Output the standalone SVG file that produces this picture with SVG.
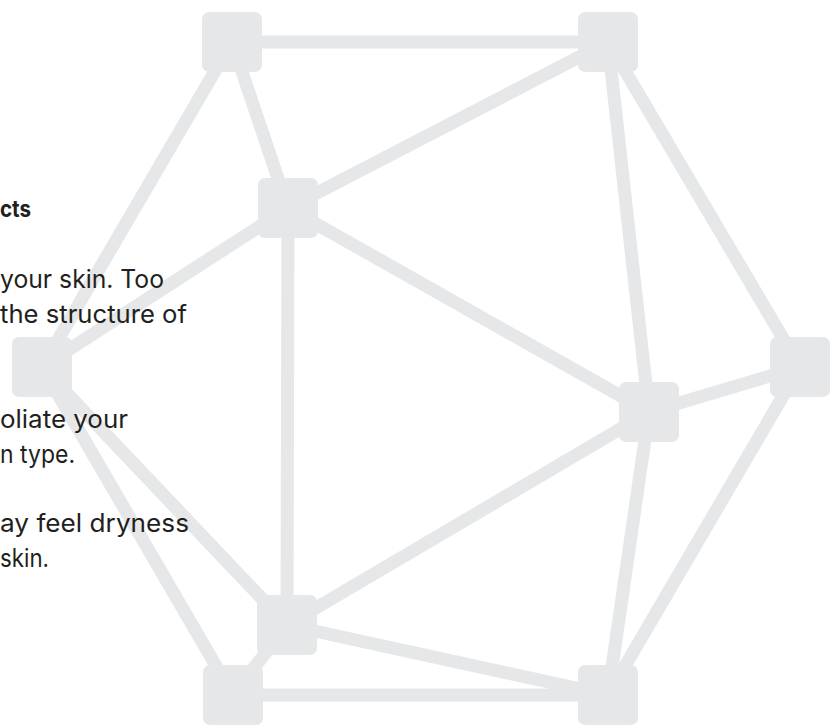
<svg xmlns="http://www.w3.org/2000/svg" width="830" height="726" viewBox="0 0 830 726">
<style>
.e{stroke:#E6E7E8;stroke-width:13;fill:none}
.n{fill:#E6E7E8}
.t{font-family:Inter,"Liberation Sans",sans-serif;font-size:25px;fill:#231F20}
.h{font-weight:700;font-size:23px}
</style>
<rect width="830" height="726" fill="#fff"/>
<g id="connectors">
<line class="e" x1="232" y1="42" x2="608" y2="42"/>
<line class="e" x1="232" y1="42" x2="42" y2="367"/>
<line class="e" x1="232" y1="42" x2="288" y2="208"/>
<line class="e" x1="608" y1="42" x2="288" y2="208"/>
<line class="e" x1="608" y1="42" x2="649" y2="412"/>
<line class="e" x1="608" y1="42" x2="800" y2="367"/>
<line class="e" x1="288" y1="208" x2="42" y2="367"/>
<line class="e" x1="288" y1="208" x2="287" y2="625"/>
<line class="e" x1="288" y1="208" x2="649" y2="412"/>
<line class="e" x1="42" y1="367" x2="287" y2="625"/>
<line class="e" x1="42" y1="367" x2="233" y2="695"/>
<line class="e" x1="800" y1="367" x2="649" y2="412"/>
<line class="e" x1="800" y1="367" x2="608" y2="695"/>
<line class="e" x1="649" y1="412" x2="287" y2="625"/>
<line class="e" x1="649" y1="412" x2="608" y2="695"/>
<line class="e" x1="287" y1="625" x2="233" y2="695"/>
<line class="e" x1="287" y1="625" x2="608" y2="695"/>
<line class="e" x1="233" y1="695" x2="608" y2="695"/>
</g>
<g id="nodeA"><rect class="n" x="202" y="12" width="60" height="60" rx="7"/></g>
<g id="nodeB"><rect class="n" x="578" y="12" width="60" height="60" rx="7"/></g>
<g id="nodeC"><rect class="n" x="258" y="178" width="60" height="60" rx="7"/></g>
<g id="nodeD"><rect class="n" x="12" y="337" width="60" height="60" rx="7"/></g>
<g id="nodeE"><rect class="n" x="770" y="337" width="60" height="60" rx="7"/></g>
<g id="nodeF"><rect class="n" x="619" y="382" width="60" height="60" rx="7"/></g>
<g id="nodeG"><rect class="n" x="257" y="595" width="60" height="60" rx="7"/></g>
<g id="nodeH"><rect class="n" x="203" y="665" width="60" height="60" rx="7"/></g>
<g id="nodeI"><rect class="n" x="578" y="665" width="60" height="60" rx="7"/></g>
<g id="text">
<text class="t h" x="0" y="217" textLength="31" lengthAdjust="spacingAndGlyphs">cts</text>
<text class="t" x="0" y="288" textLength="164" lengthAdjust="spacingAndGlyphs">your skin. Too</text>
<text class="t" x="0" y="322.5" textLength="187" lengthAdjust="spacingAndGlyphs">the structure of</text>
<text class="t" x="0" y="428" textLength="128" lengthAdjust="spacingAndGlyphs">oliate your</text>
<text class="t" x="0" y="462.5" textLength="75" lengthAdjust="spacingAndGlyphs">n type.</text>
<text class="t" x="0" y="532" textLength="189" lengthAdjust="spacingAndGlyphs">ay feel dryness</text>
<text class="t" x="0" y="566.5" textLength="49" lengthAdjust="spacingAndGlyphs">skin.</text>
</g>
</svg>
